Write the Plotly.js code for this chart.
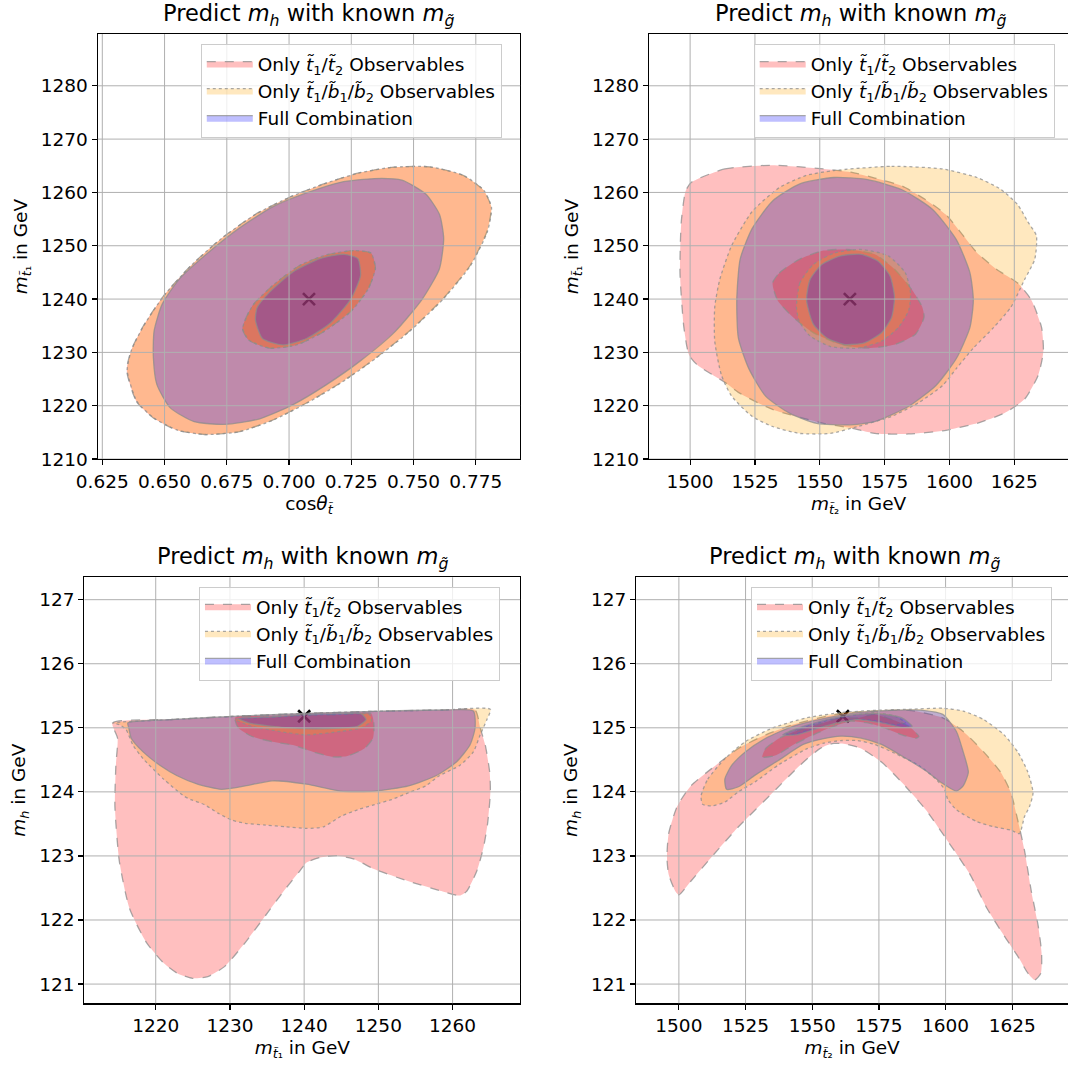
<!DOCTYPE html>
<html>
<head>
<meta charset="utf-8">
<script src="https://cdn.plot.ly/plotly-3.0.1.min.js"></script>
<style>html,body{margin:0;padding:0;background:#fff;}#chart{width:1068px;height:1068px;}</style>
</head>
<body>
<div id="chart"></div>
<script>
// ---------- DATA ----------
// Top-left: cos(theta_t) vs m_t1
const tl_red2_x = [0.6348,0.6387,0.6455,0.6551,0.6660,0.6797,0.6934,0.7070,0.7207,0.7344,0.7481,0.7617,0.7727,0.7795,0.7812,0.7781,0.7699,0.7563,0.7412,0.7276,0.7139,0.7002,0.6865,0.6729,0.6606,0.6496,0.6414,0.6366];
const tl_red2_y = [1226.6,1220.8,1217.7,1215.4,1214.6,1215.1,1217.3,1220.5,1224.3,1228.8,1233.9,1240.0,1246.3,1252.7,1257.2,1260.4,1263.2,1264.8,1264.7,1263.6,1261.6,1259.1,1255.9,1251.4,1246.3,1240.6,1234.9,1230.4];
const tl_orange2_x = [0.6350,0.6389,0.6457,0.6553,0.6662,0.6799,0.6936,0.7072,0.7209,0.7346,0.7483,0.7619,0.7729,0.7797,0.7813,0.7782,0.7700,0.7564,0.7413,0.7277,0.7140,0.7003,0.6866,0.6730,0.6607,0.6497,0.6415,0.6367];
const tl_orange2_y = [1226.6,1220.8,1217.7,1215.4,1214.6,1215.1,1217.3,1220.5,1224.3,1228.8,1233.9,1240.0,1246.3,1252.7,1257.2,1260.4,1263.2,1264.8,1264.7,1263.6,1261.6,1259.1,1255.9,1251.4,1246.3,1240.6,1234.9,1230.4];
const tl_blue2_x = [0.6455,0.6469,0.6523,0.6619,0.6742,0.6879,0.7016,0.7152,0.7289,0.7426,0.7535,0.7604,0.7621,0.7604,0.7549,0.7453,0.7344,0.7207,0.7070,0.6934,0.6800,0.6670,0.6560,0.6490,0.6458];
const tl_blue2_y = [1229.1,1224.0,1219.6,1217.0,1216.5,1217.5,1220.2,1224.0,1228.5,1233.9,1240.0,1245.7,1251.4,1255.9,1259.7,1262.3,1262.6,1261.9,1259.9,1257.3,1253.3,1248.5,1243.8,1239.0,1234.0];
const tl_red1_x = [0.6813,0.6838,0.6920,0.7029,0.7139,0.7248,0.7317,0.7347,0.7330,0.7262,0.7152,0.7043,0.6934,0.6852];
const tl_red1_y = [1234.5,1232.3,1230.8,1231.4,1233.9,1237.7,1241.9,1245.7,1248.6,1249.1,1248.3,1246.3,1242.5,1238.7];
const tl_orange1_x = [0.6814,0.6839,0.6921,0.7030,0.7140,0.7249,0.7318,0.7346,0.7329,0.7261,0.7151,0.7042,0.6933,0.6853];
const tl_orange1_y = [1234.5,1232.3,1230.8,1231.4,1233.9,1237.7,1241.9,1245.7,1248.6,1249.1,1248.3,1246.3,1242.5,1238.7];
const tl_blue1_x = [0.6865,0.6893,0.6975,0.7070,0.7166,0.7248,0.7287,0.7276,0.7221,0.7125,0.7016,0.6920,0.6872];
const tl_blue1_y = [1236.1,1232.6,1231.4,1232.6,1235.5,1240.0,1244.4,1247.6,1248.4,1247.6,1245.1,1241.2,1238.4];
const tl_true_x = [0.708];
const tl_true_y = [1240];

// Top-right: m_t2 vs m_t1
const tr_red2_x = [1500.5,1513.4,1531.8,1551.5,1562.0,1571.2,1581.7,1590.9,1598.7,1605.3,1610.6,1618.4,1626.3,1631.6,1635.5,1636.2,1634.2,1628.9,1621.1,1610.6,1597.4,1584.3,1571.2,1562.0,1551.5,1531.8,1518.6,1513.4,1502.9,1499.6,1497.6,1496.1,1496.6,1498.3];
const tr_red2_y = [1261.9,1264.4,1265.1,1264.4,1263.8,1262.7,1261.2,1258.6,1255.8,1251.9,1248.7,1245.5,1243.0,1239.8,1234.7,1230.2,1225.7,1221.2,1218.6,1216.7,1215.3,1214.7,1214.8,1215.8,1216.7,1219.3,1222.5,1224.4,1227.6,1229.5,1234.7,1244.9,1254.5,1260.3];
const tr_orange2_x = [1555.4,1577.7,1597.4,1610.6,1619.7,1626.3,1630.2,1633.5,1632.9,1628.9,1623.7,1617.1,1609.2,1602.7,1597.4,1588.2,1577.7,1564.6,1554.1,1542.3,1531.8,1523.9,1516.0,1512.1,1509.5,1509.5,1511.4,1516.0,1523.9,1534.4,1544.9];
const tr_orange2_y = [1264.1,1264.9,1264.4,1262.8,1260.6,1257.7,1254.5,1251.9,1247.5,1243.6,1238.5,1234.7,1230.8,1227.0,1223.8,1220.6,1218.0,1216.1,1214.8,1214.8,1216.1,1218.0,1221.8,1225.7,1232.1,1238.5,1243.6,1250.0,1256.4,1260.9,1263.2];
const tr_blue2_x = [1518.0,1519.3,1523.9,1531.8,1542.3,1555.4,1568.5,1581.7,1593.5,1602.7,1607.9,1609.2,1607.9,1602.7,1594.8,1584.3,1571.2,1560.7,1548.8,1538.3,1529.1,1522.6,1518.6];
const tr_blue2_y = [1239.8,1247.5,1253.2,1258.4,1261.6,1262.8,1262.4,1260.5,1256.8,1251.1,1244.9,1239.8,1234.7,1228.9,1223.8,1219.9,1217.0,1216.4,1216.7,1218.6,1221.8,1227.0,1232.7];
const tr_red1_x = [1531.8,1534.4,1542.3,1551.5,1560.7,1571.2,1579.0,1585.6,1589.5,1590.2,1586.9,1579.0,1568.5,1558.0,1547.5,1539.7,1533.7];
const tr_red1_y = [1243.0,1244.9,1247.5,1249.1,1249.3,1248.4,1245.5,1241.7,1238.5,1236.6,1233.4,1231.5,1230.8,1231.5,1233.7,1236.6,1239.8];
const tr_orange1_x = [1541.0,1542.3,1547.5,1555.4,1565.9,1576.4,1583.0,1585.0,1584.3,1580.4,1573.8,1564.6,1554.1,1546.2,1542.0];
const tr_orange1_y = [1238.5,1243.0,1246.5,1248.6,1249.3,1248.1,1244.9,1241.1,1237.9,1234.7,1232.1,1230.8,1231.1,1233.1,1235.9];
const tr_blue1_x = [1544.9,1546.2,1550.8,1558.0,1565.9,1572.5,1577.1,1578.8,1577.7,1573.8,1567.2,1559.3,1552.8,1547.5];
const tr_blue1_y = [1239.8,1243.6,1246.5,1248.1,1248.4,1247.1,1244.3,1240.4,1236.6,1233.7,1231.8,1231.5,1232.7,1235.3];
const tr_true_x = [1561.6];
const tr_true_y = [1240];

// Bottom-left: m_t1 vs m_h
const bl_red2_x = [1214.17,1221.97,1231.15,1240.32,1249.50,1258.67,1263.03,1263.72,1264.40,1265.00,1265.09,1264.72,1264.17,1263.26,1261.88,1260.96,1258.67,1254.08,1249.50,1246.74,1244.45,1242.16,1240.32,1239.40,1237.57,1234.82,1232.06,1229.31,1227.02,1224.95,1222.89,1221.06,1218.76,1216.47,1215.09,1214.50,1214.63,1214.86];
const bl_red2_y = [125.076,125.129,125.182,125.225,125.257,125.278,125.278,124.997,124.731,124.306,123.987,123.508,123.136,122.764,122.446,122.382,122.446,122.605,122.791,122.950,123.004,122.977,122.897,122.764,122.499,122.074,121.648,121.276,121.117,121.090,121.170,121.329,121.648,122.180,122.924,123.774,124.412,124.837];
const bl_orange2_x = [1214.17,1221.97,1231.15,1240.32,1249.50,1258.67,1265.09,1264.63,1263.72,1262.80,1260.96,1258.21,1256.38,1254.08,1251.79,1249.50,1247.20,1244.91,1242.61,1240.32,1237.57,1234.82,1232.06,1230.23,1228.39,1226.56,1224.72,1223.81,1221.06,1218.30,1216.93,1216.01,1215.09];
const bl_orange2_y = [125.076,125.129,125.182,125.225,125.257,125.278,125.289,125.129,124.890,124.624,124.412,124.252,124.093,123.987,123.880,123.801,123.721,123.615,123.455,123.429,123.455,123.482,123.508,123.561,123.668,123.801,123.880,123.934,124.199,124.518,124.731,124.970,125.050];
const bl_blue2_x = [1216.24,1221.97,1231.15,1240.32,1249.50,1258.67,1262.80,1263.03,1262.34,1260.51,1257.75,1254.08,1249.50,1244.91,1240.32,1235.73,1232.06,1228.85,1225.64,1222.89,1220.60,1218.30,1216.70,1216.38];
const bl_blue2_y = [125.076,125.129,125.182,125.225,125.257,125.278,125.262,124.997,124.731,124.465,124.252,124.093,124.013,124.013,124.120,124.173,124.093,124.040,124.120,124.252,124.412,124.624,124.837,124.997];
const bl_red1_x = [1230.69,1235.73,1240.32,1244.91,1249.04,1249.40,1249.27,1248.12,1245.83,1243.99,1241.24,1238.49,1235.73,1232.98,1231.15];
const bl_red1_y = [125.156,125.182,125.198,125.209,125.220,125.050,124.837,124.678,124.561,124.545,124.624,124.731,124.784,124.864,124.997];
const bl_orange1_x = [1230.69,1235.73,1240.32,1244.91,1248.81,1249.04,1247.66,1244.91,1240.32,1236.65,1232.98];
const bl_orange1_y = [125.129,125.166,125.198,125.209,125.209,125.103,124.997,124.943,124.890,124.943,125.023];
const bl_blue1_x = [1231.15,1235.73,1240.32,1244.91,1247.66,1248.35,1247.20,1244.91,1240.32,1235.73,1232.52];
const bl_blue1_y = [125.145,125.172,125.209,125.220,125.220,125.129,125.023,124.997,124.986,125.023,125.076];
const bl_true_x = [1240];
const bl_true_y = [125.18];

// Bottom-right: m_t2 vs m_h
const br_red2_x = [1495.53,1496.17,1499.36,1504.47,1512.13,1522.34,1532.56,1542.77,1555.54,1563.20,1573.42,1586.18,1598.95,1606.61,1614.27,1620.66,1624.49,1627.04,1629.60,1632.15,1634.70,1635.98,1635.72,1633.43,1630.87,1627.04,1621.93,1615.55,1609.17,1601.51,1592.57,1583.63,1575.97,1568.31,1563.20,1558.09,1552.99,1545.33,1535.11,1522.34,1512.13,1504.47,1500.00,1498.72,1496.17];
const br_red2_y = [122.977,123.349,123.774,124.093,124.359,124.678,124.890,125.050,125.182,125.236,125.262,125.273,125.156,124.943,124.624,124.306,123.987,123.561,123.083,122.446,121.914,121.489,121.170,121.064,121.170,121.436,121.755,122.180,122.711,123.190,123.721,124.146,124.465,124.678,124.741,124.757,124.678,124.412,123.987,123.455,122.977,122.605,122.392,122.446,122.711];
const br_orange2_x = [1508.30,1510.85,1517.24,1524.90,1535.11,1547.88,1560.65,1573.42,1586.18,1598.95,1606.61,1614.27,1621.93,1627.04,1630.87,1632.79,1631.51,1629.60,1627.68,1624.49,1618.10,1611.72,1604.06,1600.87,1599.59,1596.40,1590.01,1581.08,1573.42,1567.03,1560.65,1554.26,1547.88,1537.67,1528.73,1522.34,1517.24,1512.13,1508.94];
const br_orange2_y = [123.934,124.199,124.518,124.784,124.997,125.156,125.236,125.273,125.289,125.305,125.262,125.129,124.890,124.624,124.306,123.987,123.774,123.615,123.349,123.402,123.455,123.535,123.721,123.880,124.040,124.199,124.412,124.600,124.740,124.800,124.800,124.760,124.670,124.430,124.160,124.000,123.840,123.780,123.805];
const br_blue2_x = [1517.24,1519.79,1524.90,1532.56,1542.77,1555.54,1567.03,1579.80,1591.29,1598.95,1604.06,1606.61,1608.53,1606.61,1604.06,1598.95,1592.57,1583.63,1575.97,1568.31,1560.65,1554.26,1546.60,1537.67,1528.73,1522.34,1517.88];
const br_blue2_y = [124.199,124.412,124.624,124.837,125.023,125.156,125.236,125.273,125.273,125.209,124.943,124.624,124.306,124.093,124.013,124.130,124.330,124.560,124.740,124.840,124.870,124.830,124.740,124.500,124.265,124.080,124.040];
const br_red1_x = [1531.28,1532.56,1537.67,1545.33,1554.26,1560.65,1567.03,1573.42,1579.80,1586.18,1590.01,1588.74,1583.63,1577.25,1570.86,1564.48,1558.09,1550.43,1542.77,1536.39];
const br_red1_y = [124.545,124.678,124.837,124.970,125.076,125.156,125.156,125.209,125.129,125.023,124.864,124.837,124.890,124.997,125.076,125.103,125.023,124.890,124.731,124.571];
const br_orange1_x = [1540.22,1547.88,1556.82,1563.20,1573.42,1581.08,1584.91,1581.08,1573.42,1565.76,1558.09,1549.16,1541.50];
const br_orange1_y = [124.917,125.023,125.129,125.182,125.236,125.182,125.076,125.050,125.113,125.129,125.050,124.970,124.890];
const br_blue1_x = [1538.94,1546.60,1555.54,1561.92,1573.42,1583.63,1587.46,1583.63,1575.97,1567.03,1559.37,1551.71,1544.05];
const br_blue1_y = [124.890,125.023,125.129,125.182,125.225,125.156,125.023,125.007,125.076,125.129,125.076,124.986,124.890];
const br_true_x = [1561.5];
const br_true_y = [125.18];

// Text
const plotTitle = 'Predict <i>m</i><sub><i>h</i></sub> with known <i>m</i><sub><i>g\u0303</i></sub>';
const seriesNames = [
  'Only <i>t\u0303</i><sub>1</sub>/<i>t\u0303</i><sub>2</sub> Observables',
  'Only <i>t\u0303</i><sub>1</sub>/<i>b\u0303</i><sub>1</sub>/<i>b\u0303</i><sub>2</sub> Observables',
  'Full Combination'
];
const xTitles = ['cos<i>θ</i><sub><i>t\u0303</i></sub>', '<i>m</i><sub><i>t\u0303</i>₂</sub> in GeV', '<i>m</i><sub><i>t\u0303</i>₁</sub> in GeV', '<i>m</i><sub><i>t\u0303</i>₂</sub> in GeV'];
const yTitles = ['<i>m</i><sub><i>t\u0303</i>₁</sub> in GeV', '<i>m</i><sub><i>t\u0303</i>₁</sub> in GeV', '<i>m</i><sub><i>h</i></sub> in GeV', '<i>m</i><sub><i>h</i></sub> in GeV'];

// ---------- BUILD ----------
const FONT = 'DejaVu Sans, sans-serif';
const FS = 18.5;
const TFS = 22.5;
const GRID = '#b0b0b0';
const styles = [
  {fill: 'rgba(255,0,0,0.25)', dash: 'dash'},
  {fill: 'rgba(255,165,0,0.25)', dash: 'dot'},
  {fill: 'rgba(0,0,255,0.25)', dash: 'solid'}
];
function closed(a){ return a.concat([a[0]]); }

const panels = [
  {ax:'', leg:'legend', d:[[tl_red2_x,tl_red2_y,tl_red1_x,tl_red1_y],[tl_orange2_x,tl_orange2_y,tl_orange1_x,tl_orange1_y],[tl_blue2_x,tl_blue2_y,tl_blue1_x,tl_blue1_y]], t:[tl_true_x,tl_true_y]},
  {ax:'2', leg:'legend2', d:[[tr_red2_x,tr_red2_y,tr_red1_x,tr_red1_y],[tr_orange2_x,tr_orange2_y,tr_orange1_x,tr_orange1_y],[tr_blue2_x,tr_blue2_y,tr_blue1_x,tr_blue1_y]], t:[tr_true_x,tr_true_y]},
  {ax:'3', leg:'legend3', d:[[bl_red2_x,bl_red2_y,bl_red1_x,bl_red1_y],[bl_orange2_x,bl_orange2_y,bl_orange1_x,bl_orange1_y],[bl_blue2_x,bl_blue2_y,bl_blue1_x,bl_blue1_y]], t:[bl_true_x,bl_true_y]},
  {ax:'4', leg:'legend4', d:[[br_red2_x,br_red2_y,br_red1_x,br_red1_y],[br_orange2_x,br_orange2_y,br_orange1_x,br_orange1_y],[br_blue2_x,br_blue2_y,br_blue1_x,br_blue1_y]], t:[br_true_x,br_true_y]}
];

const traces = [];
panels.forEach((p, pi) => {
  traces.push({x: p.t[0], y: p.t[1], xaxis:'x'+p.ax, yaxis:'y'+p.ax, mode:'markers', type:'scatter',
    marker:{symbol:'x-thin', size:12, line:{width:2.6, color:'#000'}, color:'#000'}, showlegend:false, hoverinfo:'skip'});
  // all 2-sigma regions first, then all 1-sigma regions
  [0, 2].forEach(off => {
    p.d.forEach((s, si) => {
      const st = styles[si];
      traces.push({x: closed(s[off]), y: closed(s[off+1]), xaxis:'x'+p.ax, yaxis:'y'+p.ax, type:'scatter', mode:'lines',
        fill:'toself', fillcolor: st.fill,
        line:{color:'rgba(140,140,140,0.75)', width:1.3, dash: st.dash, shape:'spline', smoothing:0.6},
        name: seriesNames[si], legend: p.leg, legendgroup: 'g'+pi+'_'+si, showlegend: off === 0, hoverinfo:'skip'});
    });
  });
});

function axisStyle(extra){
  return Object.assign({
    showline:true, linecolor:'#000', linewidth:1.3, mirror:true, layer:'above traces',
    ticks:'outside', ticklen:5, tickwidth:1.2, tickcolor:'#000',
    showgrid:false, zeroline:false,
    tickfont:{family:FONT, size:FS, color:'#000'}, automargin:false, fixedrange:true
  }, extra);
}
const yTop = [0.5702, 0.9681], yBot = [0.0606, 0.4595];
const layout = {
  width:1068, height:1068, margin:{l:0,r:0,t:0,b:0},
  paper_bgcolor:'#fff', plot_bgcolor:'#fff',
  font:{family:FONT, size:FS, color:'#000'},
  xaxis: axisStyle({domain:[0.0916,0.4870], anchor:'y', range:[0.6232,0.7928], tick0:0.625, dtick:0.025, tickformat:'.3f', title:{text:xTitles[0], font:{size:FS}, standoff:6}}),
  yaxis: axisStyle({domain:yTop, anchor:'x', range:[1210,1289.7], tick0:1210, dtick:10, title:{text:yTitles[0], font:{size:FS}, standoff:8}}),
  xaxis2: axisStyle({domain:[0.6078,1.0], anchor:'y2', range:[1484.2,1645.7], tick0:1500, dtick:25, title:{text:xTitles[1], font:{size:FS}, standoff:6}}),
  yaxis2: axisStyle({domain:yTop, anchor:'x2', mirror:false, range:[1210,1289.7], tick0:1210, dtick:10, title:{text:yTitles[1], font:{size:FS}, standoff:8}}),
  xaxis3: axisStyle({domain:[0.0791,0.4870], anchor:'y3', range:[1210.4,1269.1], tick0:1220, dtick:10, title:{text:xTitles[2], font:{size:FS}, standoff:6}}),
  yaxis3: axisStyle({domain:yBot, anchor:'x3', range:[120.70,127.35], tick0:121, dtick:1, title:{text:yTitles[2], font:{size:FS}, standoff:8}}),
  xaxis4: axisStyle({domain:[0.5957,1.0], anchor:'y4', range:[1484.0,1645.9], tick0:1500, dtick:25, title:{text:xTitles[3], font:{size:FS}, standoff:6}}),
  yaxis4: axisStyle({domain:yBot, anchor:'x4', mirror:false, range:[120.70,127.35], tick0:121, dtick:1, title:{text:yTitles[3], font:{size:FS}, standoff:8}}),
  annotations: [
    {text:plotTitle, xref:'paper', yref:'paper', x:0.2893, y:0.9857, showarrow:false, xanchor:'center', yanchor:'middle', font:{family:FONT, size:TFS}},
    {text:plotTitle, xref:'paper', yref:'paper', x:0.8055, y:0.9857, showarrow:false, xanchor:'center', yanchor:'middle', font:{family:FONT, size:TFS}},
    {text:plotTitle, xref:'paper', yref:'paper', x:0.2828, y:0.4777, showarrow:false, xanchor:'center', yanchor:'middle', font:{family:FONT, size:TFS}},
    {text:plotTitle, xref:'paper', yref:'paper', x:0.7998, y:0.4777, showarrow:false, xanchor:'center', yanchor:'middle', font:{family:FONT, size:TFS}}
  ],
  shapes: []
};

// grid lines drawn above the filled regions (as in the reference), at the axes' own tick values
['', '2', '3', '4'].forEach(a => {
  const xa = layout['xaxis'+a], ya = layout['yaxis'+a];
  for (let v = xa.tick0; v <= xa.range[1] + 1e-9; v += xa.dtick) {
    if (v < xa.range[0]) continue;
    layout.shapes.push({type:'line', layer:'above', xref:'x'+a, yref:'y'+a+' domain', x0:v, x1:v, y0:0, y1:1, line:{color:GRID, width:1}});
  }
  for (let v = ya.tick0; v <= ya.range[1] + 1e-9; v += ya.dtick) {
    if (v < ya.range[0]) continue;
    layout.shapes.push({type:'line', layer:'above', xref:'x'+a+' domain', yref:'y'+a, x0:0, x1:1, y0:v, y1:v, line:{color:GRID, width:1}});
  }
});

const legBase = {xanchor:'left', yanchor:'top', bgcolor:'rgba(255,255,255,0.8)', bordercolor:'#cccccc', borderwidth:1,
  font:{family:FONT, size:FS, color:'#000'}, itemwidth:46, tracegroupgap:9, traceorder:'normal'};
layout.legend = Object.assign({}, legBase, {x:0.188, y:0.9588});
layout.legend2 = Object.assign({}, legBase, {x:0.7057, y:0.9588});
layout.legend3 = Object.assign({}, legBase, {x:0.1863, y:0.4506});
layout.legend4 = Object.assign({}, legBase, {x:0.7032, y:0.4506});

Plotly.newPlot('chart', traces, layout, {displayModeBar:false, staticPlot:true});
</script>
</body>
</html>
